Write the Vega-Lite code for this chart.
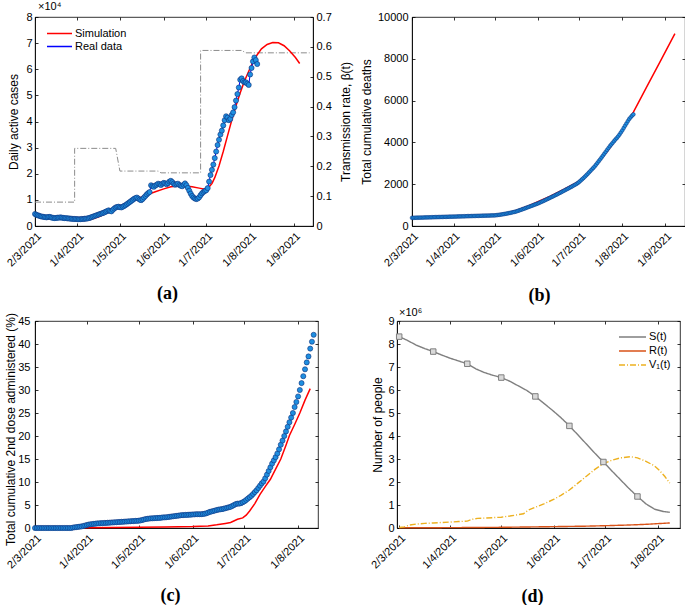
{
"$schema": "https://vega.github.io/schema/vega-lite/v6.json",
"padding": {"left": 3, "top": 0, "right": 0, "bottom": 0},
"autosize": {"type": "pad"},
"background": "white",
"config": {
  "font": "Liberation Sans",
  "view": {"stroke": "black", "strokeWidth": 0.8},
  "axis": {"labelFont": "Liberation Sans", "labelFontSize": 11, "labelColor": "black", "titleFont": "Liberation Sans", "titleFontSize": 12, "titleFontWeight": "normal", "titleColor": "black", "domainColor": "black", "domainWidth": 0.8, "tickColor": "black", "tickWidth": 0.8, "tickSize": -3, "grid": false, "labelPadding": 6, "labelFlush": false, "labelOverlap": false, "labelBound": false},
  "legend": {"labelFont": "Liberation Sans", "labelFontSize": 11, "labelColor": "black"},
  "title": {"font": "Liberation Sans", "fontSize": 11, "fontWeight": "normal", "color": "black"}
},
"datasets": {
  "beta": [{"i":0,"t":"2021-03-02","v":0.08},{"i":1,"t":"2021-03-30","v":0.08},{"i":2,"t":"2021-03-30","v":0.26},{"i":3,"t":"2021-04-28","v":0.26},{"i":4,"t":"2021-05-01","v":0.184},{"i":5,"t":"2021-05-28","v":0.184},{"i":6,"t":"2021-05-30","v":0.178},{"i":7,"t":"2021-06-27","v":0.178},{"i":8,"t":"2021-06-27","v":0.588},{"i":9,"t":"2021-07-26","v":0.588},{"i":10,"t":"2021-07-29","v":0.58},{"i":11,"t":"2021-09-12","v":0.58}],
  "simA": [{"t":"2021-03-02","v":4800},{"t":"2021-03-07","v":4000},{"t":"2021-03-12","v":3400},{"t":"2021-03-17","v":2900},{"t":"2021-03-22","v":2500},{"t":"2021-03-27","v":2200},{"t":"2021-04-01","v":2000},{"t":"2021-04-06","v":2100},{"t":"2021-04-11","v":2600},{"t":"2021-04-16","v":3500},{"t":"2021-04-21","v":4800},{"t":"2021-04-26","v":6300},{"t":"2021-05-01","v":7700},{"t":"2021-05-06","v":8900},{"t":"2021-05-11","v":10000},{"t":"2021-05-16","v":11000},{"t":"2021-05-21","v":12100},{"t":"2021-05-26","v":13100},{"t":"2021-06-01","v":14200},{"t":"2021-06-06","v":15000},{"t":"2021-06-11","v":15300},{"t":"2021-06-16","v":15300},{"t":"2021-06-21","v":15000},{"t":"2021-06-26","v":14500},{"t":"2021-06-29","v":14200},{"t":"2021-07-01","v":14300},{"t":"2021-07-03","v":15000},{"t":"2021-07-05","v":16200},{"t":"2021-07-07","v":18500},{"t":"2021-07-10","v":23000},{"t":"2021-07-13","v":28500},{"t":"2021-07-16","v":34500},{"t":"2021-07-19","v":40500},{"t":"2021-07-22","v":46000},{"t":"2021-07-25","v":51000},{"t":"2021-07-28","v":55500},{"t":"2021-08-01","v":60500},{"t":"2021-08-05","v":64800},{"t":"2021-08-09","v":67800},{"t":"2021-08-13","v":69500},{"t":"2021-08-17","v":70200},{"t":"2021-08-21","v":70100},{"t":"2021-08-25","v":69000},{"t":"2021-08-29","v":67000},{"t":"2021-09-02","v":64500},{"t":"2021-09-05","v":62200}],
  "simB": [{"t":"2021-03-02","v":380},{"t":"2021-04-01","v":430},{"t":"2021-05-01","v":520},{"t":"2021-05-09","v":600},{"t":"2021-05-16","v":730},{"t":"2021-05-24","v":930},{"t":"2021-06-01","v":1160},{"t":"2021-06-10","v":1430},{"t":"2021-06-20","v":1760},{"t":"2021-07-01","v":2150},{"t":"2021-07-12","v":2830},{"t":"2021-07-22","v":3650},{"t":"2021-07-30","v":4400},{"t":"2021-08-04","v":4900},{"t":"2021-08-09","v":5450},{"t":"2021-08-19","v":6700},{"t":"2021-08-29","v":7950},{"t":"2021-09-08","v":9200}],
  "simC": [{"t":"2021-03-02","v":0},{"t":"2021-03-22","v":0.02},{"t":"2021-04-01","v":0.05},{"t":"2021-04-16","v":0.1},{"t":"2021-05-01","v":0.15},{"t":"2021-05-16","v":0.2},{"t":"2021-06-01","v":0.3},{"t":"2021-06-10","v":0.45},{"t":"2021-06-15","v":0.7},{"t":"2021-06-20","v":1.0},{"t":"2021-06-23","v":1.2},{"t":"2021-06-27","v":1.9},{"t":"2021-06-30","v":2.2},{"t":"2021-07-02","v":2.8},{"t":"2021-07-04","v":3.7},{"t":"2021-07-07","v":5.3},{"t":"2021-07-10","v":7.3},{"t":"2021-07-13","v":9.0},{"t":"2021-07-16","v":10.6},{"t":"2021-07-19","v":12.8},{"t":"2021-07-22","v":15.0},{"t":"2021-07-25","v":18.0},{"t":"2021-07-27","v":20.1},{"t":"2021-07-30","v":22.5},{"t":"2021-08-02","v":25.0},{"t":"2021-08-05","v":27.8},{"t":"2021-08-08","v":30.3}],
  "popD": [
    {"s":"S(t)","t":"2021-03-02","v":8320000},{"s":"S(t)","t":"2021-03-07","v":8150000},{"s":"S(t)","t":"2021-03-12","v":7950000},{"s":"S(t)","t":"2021-03-17","v":7800000},{"s":"S(t)","t":"2021-03-22","v":7670000},{"s":"S(t)","t":"2021-03-27","v":7520000},{"s":"S(t)","t":"2021-04-01","v":7380000},{"s":"S(t)","t":"2021-04-06","v":7260000},{"s":"S(t)","t":"2021-04-11","v":7140000},{"s":"S(t)","t":"2021-04-16","v":6920000},{"s":"S(t)","t":"2021-04-21","v":6760000},{"s":"S(t)","t":"2021-04-26","v":6640000},{"s":"S(t)","t":"2021-05-01","v":6540000},{"s":"S(t)","t":"2021-05-06","v":6380000},{"s":"S(t)","t":"2021-05-11","v":6180000},{"s":"S(t)","t":"2021-05-16","v":5980000},{"s":"S(t)","t":"2021-05-21","v":5720000},{"s":"S(t)","t":"2021-05-26","v":5420000},{"s":"S(t)","t":"2021-05-31","v":5120000},{"s":"S(t)","t":"2021-06-05","v":4800000},{"s":"S(t)","t":"2021-06-10","v":4440000},{"s":"S(t)","t":"2021-06-15","v":4050000},{"s":"S(t)","t":"2021-06-20","v":3650000},{"s":"S(t)","t":"2021-06-25","v":3250000},{"s":"S(t)","t":"2021-06-30","v":2870000},{"s":"S(t)","t":"2021-07-05","v":2480000},{"s":"S(t)","t":"2021-07-10","v":2100000},{"s":"S(t)","t":"2021-07-15","v":1720000},{"s":"S(t)","t":"2021-07-20","v":1370000},{"s":"S(t)","t":"2021-07-25","v":1050000},{"s":"S(t)","t":"2021-07-30","v":820000},{"s":"S(t)","t":"2021-08-04","v":720000},{"s":"S(t)","t":"2021-08-08","v":680000},
    {"s":"R(t)","t":"2021-03-02","v":10000},{"s":"R(t)","t":"2021-04-01","v":15000},{"s":"R(t)","t":"2021-05-01","v":30000},{"s":"R(t)","t":"2021-06-01","v":60000},{"s":"R(t)","t":"2021-06-20","v":80000},{"s":"R(t)","t":"2021-07-01","v":100000},{"s":"R(t)","t":"2021-07-15","v":130000},{"s":"R(t)","t":"2021-07-25","v":160000},{"s":"R(t)","t":"2021-08-01","v":190000},{"s":"R(t)","t":"2021-08-08","v":220000},
    {"s":"V₁(t)","t":"2021-03-02","v":20000},{"s":"V₁(t)","t":"2021-03-05","v":50000},{"s":"V₁(t)","t":"2021-03-08","v":130000},{"s":"V₁(t)","t":"2021-03-12","v":170000},{"s":"V₁(t)","t":"2021-03-17","v":200000},{"s":"V₁(t)","t":"2021-03-22","v":220000},{"s":"V₁(t)","t":"2021-03-27","v":240000},{"s":"V₁(t)","t":"2021-04-01","v":260000},{"s":"V₁(t)","t":"2021-04-06","v":280000},{"s":"V₁(t)","t":"2021-04-11","v":300000},{"s":"V₁(t)","t":"2021-04-14","v":380000},{"s":"V₁(t)","t":"2021-04-17","v":420000},{"s":"V₁(t)","t":"2021-04-21","v":430000},{"s":"V₁(t)","t":"2021-04-26","v":450000},{"s":"V₁(t)","t":"2021-05-01","v":470000},{"s":"V₁(t)","t":"2021-05-06","v":520000},{"s":"V₁(t)","t":"2021-05-11","v":580000},{"s":"V₁(t)","t":"2021-05-14","v":620000},{"s":"V₁(t)","t":"2021-05-17","v":780000},{"s":"V₁(t)","t":"2021-05-21","v":900000},{"s":"V₁(t)","t":"2021-05-26","v":1050000},{"s":"V₁(t)","t":"2021-06-01","v":1250000},{"s":"V₁(t)","t":"2021-06-05","v":1420000},{"s":"V₁(t)","t":"2021-06-10","v":1650000},{"s":"V₁(t)","t":"2021-06-15","v":1950000},{"s":"V₁(t)","t":"2021-06-20","v":2250000},{"s":"V₁(t)","t":"2021-06-25","v":2550000},{"s":"V₁(t)","t":"2021-06-30","v":2800000},{"s":"V₁(t)","t":"2021-07-05","v":2950000},{"s":"V₁(t)","t":"2021-07-10","v":3050000},{"s":"V₁(t)","t":"2021-07-16","v":3100000},{"s":"V₁(t)","t":"2021-07-20","v":3050000},{"s":"V₁(t)","t":"2021-07-25","v":2900000},{"s":"V₁(t)","t":"2021-07-30","v":2700000},{"s":"V₁(t)","t":"2021-08-02","v":2500000},{"s":"V₁(t)","t":"2021-08-05","v":2250000},{"s":"V₁(t)","t":"2021-08-08","v":1950000}
  ],
  "sMark": [{"t":"2021-03-02","v":8320000},{"t":"2021-03-22","v":7670000},{"t":"2021-04-11","v":7140000},{"t":"2021-05-01","v":6540000},{"t":"2021-05-21","v":5720000},{"t":"2021-06-10","v":4440000},{"t":"2021-06-30","v":2870000},{"t":"2021-07-20","v":1370000}],
  "real": [
{"t":"2021-03-02","a":4600,"b":390,"c":0},{"t":"2021-03-03","a":4300,"b":392,"c":0},{"t":"2021-03-04","a":4100,"b":394,"c":0},{"t":"2021-03-05","a":3900,"b":396,"c":0},{"t":"2021-03-06","a":3700,"b":398,"c":0},{"t":"2021-03-07","a":3600,"b":400,"c":0},{"t":"2021-03-08","a":3500,"b":402,"c":0},{"t":"2021-03-09","a":3400,"b":404,"c":0},{"t":"2021-03-10","a":3300,"b":406,"c":0},{"t":"2021-03-11","a":3400,"b":408,"c":0},
{"t":"2021-03-12","a":3500,"b":410,"c":0},{"t":"2021-03-13","a":3400,"b":412,"c":0},{"t":"2021-03-14","a":3200,"b":414,"c":0},{"t":"2021-03-15","a":3100,"b":416,"c":0},{"t":"2021-03-16","a":3000,"b":418,"c":0},{"t":"2021-03-17","a":3100,"b":420,"c":0},{"t":"2021-03-18","a":3200,"b":422,"c":0},{"t":"2021-03-19","a":3200,"b":424,"c":0},{"t":"2021-03-20","a":3300,"b":426,"c":0},{"t":"2021-03-21","a":3200,"b":428,"c":0},
{"t":"2021-03-22","a":3100,"b":430,"c":0},{"t":"2021-03-23","a":3000,"b":432,"c":0},{"t":"2021-03-24","a":3000,"b":434,"c":0.1},{"t":"2021-03-25","a":2900,"b":436,"c":0.15},{"t":"2021-03-26","a":2900,"b":438,"c":0.2},{"t":"2021-03-27","a":2800,"b":440,"c":0.25},{"t":"2021-03-28","a":2800,"b":442,"c":0.3},{"t":"2021-03-29","a":2700,"b":444,"c":0.35},{"t":"2021-03-30","a":2700,"b":446,"c":0.45},{"t":"2021-03-31","a":2700,"b":448,"c":0.55},
{"t":"2021-04-01","a":2600,"b":450,"c":0.65},{"t":"2021-04-02","a":2600,"b":452,"c":0.75},{"t":"2021-04-03","a":2600,"b":454,"c":0.8},{"t":"2021-04-04","a":2700,"b":456,"c":0.85},{"t":"2021-04-05","a":2700,"b":458,"c":0.9},{"t":"2021-04-06","a":2800,"b":460,"c":0.95},{"t":"2021-04-07","a":2800,"b":462,"c":1.0},{"t":"2021-04-08","a":2900,"b":464,"c":1.0},{"t":"2021-04-09","a":3000,"b":466,"c":1.05},{"t":"2021-04-10","a":3200,"b":468,"c":1.05},
{"t":"2021-04-11","a":3400,"b":470,"c":1.1},{"t":"2021-04-12","a":3600,"b":472,"c":1.1},{"t":"2021-04-13","a":3800,"b":474,"c":1.15},{"t":"2021-04-14","a":4000,"b":476,"c":1.15},{"t":"2021-04-15","a":4200,"b":478,"c":1.2},{"t":"2021-04-16","a":4400,"b":480,"c":1.2},{"t":"2021-04-17","a":4600,"b":482,"c":1.25},{"t":"2021-04-18","a":4800,"b":484,"c":1.25},{"t":"2021-04-19","a":5000,"b":486,"c":1.3},{"t":"2021-04-20","a":5200,"b":488,"c":1.3},
{"t":"2021-04-21","a":5500,"b":490,"c":1.35},{"t":"2021-04-22","a":5700,"b":492,"c":1.35},{"t":"2021-04-23","a":6000,"b":494,"c":1.4},{"t":"2021-04-24","a":5800,"b":496,"c":1.4},{"t":"2021-04-25","a":5600,"b":498,"c":1.45},{"t":"2021-04-26","a":6200,"b":500,"c":1.45},{"t":"2021-04-27","a":6700,"b":502,"c":1.5},{"t":"2021-04-28","a":7100,"b":504,"c":1.5},{"t":"2021-04-29","a":7300,"b":506,"c":1.55},{"t":"2021-04-30","a":7400,"b":508,"c":1.55},
{"t":"2021-05-01","a":7200,"b":510,"c":1.6},{"t":"2021-05-02","a":7100,"b":518,"c":1.65},{"t":"2021-05-03","a":7400,"b":526,"c":1.75},{"t":"2021-05-04","a":7700,"b":535,"c":1.85},{"t":"2021-05-05","a":8000,"b":545,"c":1.95},{"t":"2021-05-06","a":8400,"b":555,"c":2.0},{"t":"2021-05-07","a":8800,"b":566,"c":2.05},{"t":"2021-05-08","a":9200,"b":577,"c":2.1},{"t":"2021-05-09","a":9600,"b":590,"c":2.1},{"t":"2021-05-10","a":10000,"b":603,"c":2.15},
{"t":"2021-05-11","a":10400,"b":616,"c":2.15},{"t":"2021-05-12","a":10700,"b":630,"c":2.2},{"t":"2021-05-13","a":10900,"b":645,"c":2.2},{"t":"2021-05-14","a":10500,"b":660,"c":2.25},{"t":"2021-05-15","a":10100,"b":675,"c":2.3},{"t":"2021-05-16","a":9900,"b":690,"c":2.3},{"t":"2021-05-17","a":10300,"b":712,"c":2.35},{"t":"2021-05-18","a":10900,"b":735,"c":2.4},{"t":"2021-05-19","a":11500,"b":758,"c":2.45},{"t":"2021-05-20","a":12100,"b":782,"c":2.5},
{"t":"2021-05-21","a":12600,"b":806,"c":2.55},{"t":"2021-05-22","a":13000,"b":830,"c":2.6},{"t":"2021-05-23","a":15600,"b":855,"c":2.65},{"t":"2021-05-24","a":15200,"b":880,"c":2.7},{"t":"2021-05-25","a":15000,"b":905,"c":2.75},{"t":"2021-05-26","a":15500,"b":930,"c":2.8},{"t":"2021-05-27","a":15800,"b":955,"c":2.8},{"t":"2021-05-28","a":16200,"b":980,"c":2.85},{"t":"2021-05-29","a":16000,"b":1005,"c":2.85},{"t":"2021-05-30","a":15700,"b":1030,"c":2.9},
{"t":"2021-05-31","a":16200,"b":1055,"c":2.9},{"t":"2021-06-01","a":16500,"b":1080,"c":2.95},{"t":"2021-06-02","a":16300,"b":1110,"c":2.95},{"t":"2021-06-03","a":16000,"b":1140,"c":3.0},{"t":"2021-06-04","a":16400,"b":1170,"c":3.0},{"t":"2021-06-05","a":17000,"b":1200,"c":3.0},{"t":"2021-06-06","a":17300,"b":1230,"c":3.0},{"t":"2021-06-07","a":16800,"b":1262,"c":3.05},{"t":"2021-06-08","a":16200,"b":1294,"c":3.1},{"t":"2021-06-09","a":15800,"b":1326,"c":3.2},
{"t":"2021-06-10","a":16000,"b":1358,"c":3.35},{"t":"2021-06-11","a":16200,"b":1390,"c":3.5},{"t":"2021-06-12","a":15700,"b":1422,"c":3.6},{"t":"2021-06-13","a":15400,"b":1455,"c":3.7},{"t":"2021-06-14","a":15200,"b":1488,"c":3.8},{"t":"2021-06-15","a":15800,"b":1521,"c":3.9},{"t":"2021-06-16","a":16300,"b":1555,"c":4.0},{"t":"2021-06-17","a":15600,"b":1590,"c":4.05},{"t":"2021-06-18","a":14600,"b":1625,"c":4.1},{"t":"2021-06-19","a":13500,"b":1660,"c":4.2},
{"t":"2021-06-20","a":12400,"b":1695,"c":4.3},{"t":"2021-06-21","a":11500,"b":1730,"c":4.4},{"t":"2021-06-22","a":10900,"b":1765,"c":4.5},{"t":"2021-06-23","a":10500,"b":1800,"c":4.6},{"t":"2021-06-24","a":10300,"b":1836,"c":4.8},{"t":"2021-06-25","a":10500,"b":1872,"c":5.0},{"t":"2021-06-26","a":11000,"b":1908,"c":5.2},{"t":"2021-06-27","a":11800,"b":1945,"c":5.3},{"t":"2021-06-28","a":12500,"b":1982,"c":5.3},{"t":"2021-06-29","a":13000,"b":2020,"c":5.4},
{"t":"2021-06-30","a":13400,"b":2065,"c":5.6},{"t":"2021-07-01","a":13700,"b":2120,"c":5.8},{"t":"2021-07-02","a":14500,"b":2180,"c":6.1},{"t":"2021-07-03","a":17000,"b":2240,"c":6.4},{"t":"2021-07-04","a":19500,"b":2300,"c":6.7},{"t":"2021-07-05","a":21500,"b":2365,"c":7.0},{"t":"2021-07-06","a":23500,"b":2430,"c":7.4},{"t":"2021-07-07","a":26000,"b":2500,"c":7.8},{"t":"2021-07-08","a":28500,"b":2570,"c":8.2},{"t":"2021-07-09","a":31000,"b":2640,"c":8.7},
{"t":"2021-07-10","a":33000,"b":2710,"c":9.2},{"t":"2021-07-11","a":35000,"b":2780,"c":9.7},{"t":"2021-07-12","a":36500,"b":2850,"c":10.1},{"t":"2021-07-13","a":38500,"b":2935,"c":10.8},{"t":"2021-07-14","a":40500,"b":3020,"c":11.6},{"t":"2021-07-15","a":42000,"b":3105,"c":12.4},{"t":"2021-07-16","a":41500,"b":3190,"c":13.2},{"t":"2021-07-17","a":40500,"b":3280,"c":14.0},{"t":"2021-07-18","a":41000,"b":3370,"c":14.7},{"t":"2021-07-19","a":42500,"b":3460,"c":15.4},
{"t":"2021-07-20","a":43500,"b":3550,"c":16.2},{"t":"2021-07-21","a":45500,"b":3640,"c":17.1},{"t":"2021-07-22","a":48000,"b":3730,"c":18.1},{"t":"2021-07-23","a":50500,"b":3820,"c":19.0},{"t":"2021-07-24","a":53000,"b":3900,"c":20.0},{"t":"2021-07-25","a":56000,"b":3980,"c":21.0},{"t":"2021-07-26","a":56500,"b":4060,"c":22.0},{"t":"2021-07-27","a":55500,"b":4140,"c":23.0},{"t":"2021-07-28","a":55000,"b":4210,"c":24.0},{"t":"2021-07-29","a":55000,"b":4290,"c":25.0},
{"t":"2021-07-30","a":54500,"b":4380,"c":26.3},{"t":"2021-07-31","a":54000,"b":4480,"c":27.4},{"t":"2021-08-01","a":58000,"b":4580,"c":28.6},{"t":"2021-08-02","a":60500,"b":4690,"c":30.0},{"t":"2021-08-03","a":63000,"b":4800,"c":31.5},{"t":"2021-08-04","a":64500,"b":4910,"c":33.0},{"t":"2021-08-05","a":63500,"b":5020,"c":34.5},{"t":"2021-08-06","a":62000,"b":5120,"c":36.0},{"t":"2021-08-07","b":5200,"c":37.3},{"t":"2021-08-08","b":5280,"c":39.0},
{"t":"2021-08-09","b":5340,"c":40.5},{"t":"2021-08-10","c":42.0}
  ]
},
"spacing": 1,
"resolve": {"scale": {"color": "independent", "strokeDash": "independent"}},
"vconcat": [
 {"bounds": "flush", "spacing": 99,
  "resolve": {"scale": {"color": "independent", "strokeDash": "independent"}},
  "hconcat": [
  {"width": 278, "height": 209,
   "title": {"text": "×10⁴", "anchor": "start", "frame": "group", "dx": 3, "offset": -1, "fontSize": 11},
   "layer": [
    {"data": {"name": "beta"},
     "mark": {"type": "line", "color": "#8c8c8c", "strokeWidth": 1, "strokeDash": [6, 2, 1, 2]},
     "encoding": {
      "x": {"field": "t", "type": "temporal", "scale": {"type": "utc", "domain": [{"year":2021,"month":3,"date":2,"utc":true},{"year":2021,"month":9,"date":14,"hours":10,"utc":true}]},
            "axis": {"orient": "bottom", "values": [{"year":2021,"month":3,"date":2,"utc":true},{"year":2021,"month":4,"date":1,"utc":true},{"year":2021,"month":5,"date":1,"utc":true},{"year":2021,"month":6,"date":1,"utc":true},{"year":2021,"month":7,"date":1,"utc":true},{"year":2021,"month":8,"date":1,"utc":true},{"year":2021,"month":9,"date":1,"utc":true}],
                     "labelExpr": "utcFormat(datum.value, '%-d/%-m/%Y')", "labelAngle": -45, "labelAlign": "right", "labelBaseline": "top", "labelPadding": 7,
                     "title": "(a)", "titleFont": "Liberation Serif", "titleFontWeight": "bold", "titleFontSize": 18, "titleX": 132, "titleY": 58, "titleBaseline": "top", "titleAlign": "center"}},
      "y": {"field": "v", "type": "quantitative", "scale": {"domain": [0, 0.7], "nice": false},
            "axis": {"orient": "right", "values": [0,0.1,0.2,0.3,0.4,0.5,0.6,0.7], "format": ".1~f", "title": "Transmission rate, β(t)", "titleAngle": 270, "titleBaseline": "top", "titleX": 27}},
      "order": {"field": "i", "type": "quantitative"}
     }},
    {"data": {"name": "simA"},
     "mark": {"type": "line", "strokeWidth": 1.5},
     "encoding": {
      "x": {"field": "t", "type": "temporal", "scale": {"type": "utc"},
            "axis": {"orient": "top", "values": [{"year":2021,"month":3,"date":2,"utc":true},{"year":2021,"month":4,"date":1,"utc":true},{"year":2021,"month":5,"date":1,"utc":true},{"year":2021,"month":6,"date":1,"utc":true},{"year":2021,"month":7,"date":1,"utc":true},{"year":2021,"month":8,"date":1,"utc":true},{"year":2021,"month":9,"date":1,"utc":true}], "labels": false, "title": null, "domain": false}},
      "y": {"field": "v", "type": "quantitative", "scale": {"domain": [0, 80000], "nice": false},
            "axis": {"orient": "left", "values": [0,10000,20000,30000,40000,50000,60000,70000,80000], "labelExpr": "datum.value / 10000", "title": "Daily active cases", "titleX": -15}},
      "color": {"datum": "Simulation", "type": "nominal", "scale": {"domain": ["Simulation", "Real data"], "range": ["#ff0000", "#0000ff"]},
                "legend": {"orient": "none", "legendX": 11, "legendY": 10, "title": null, "symbolType": "stroke", "symbolSize": 625, "symbolStrokeWidth": 1.3, "labelFontSize": 11, "labelOffset": 2, "rowPadding": 0, "clipHeight": 13}}
     }},
    {"data": {"name": "real"},
     "transform": [{"filter": "isValid(datum.a)"}],
     "mark": {"type": "line", "strokeWidth": 1},
     "encoding": {
      "x": {"field": "t", "type": "temporal", "scale": {"type": "utc"}, "axis": null},
      "y": {"field": "a", "type": "quantitative", "scale": {"domain": [0, 80000], "nice": false}, "axis": null},
      "color": {"datum": "Real data", "type": "nominal"}
     }},
    {"data": {"name": "real"},
     "transform": [{"filter": "isValid(datum.a)"}],
     "mark": {"type": "point", "filled": true, "fill": "#1f8fe0", "stroke": "#0b2e7a", "strokeWidth": 0.6, "size": 26, "opacity": 1},
     "encoding": {
      "x": {"field": "t", "type": "temporal", "scale": {"type": "utc"}, "axis": null},
      "y": {"field": "a", "type": "quantitative", "scale": {"domain": [0, 80000], "nice": false}, "axis": null}
     }}
   ],
   "resolve": {"scale": {"y": "independent"}, "axis": {"x": "independent", "y": "independent"}}
  },
  {"width": 273, "height": 209,
   "layer": [
    {"data": {"name": "simB"},
     "mark": {"type": "line", "color": "#ff0000", "strokeWidth": 1.5},
     "encoding": {
      "x": {"field": "t", "type": "temporal", "scale": {"type": "utc", "domain": [{"year":2021,"month":3,"date":2,"utc":true},{"year":2021,"month":9,"date":15,"hours":7,"utc":true}]},
            "axis": {"orient": "bottom", "values": [{"year":2021,"month":3,"date":2,"utc":true},{"year":2021,"month":4,"date":1,"utc":true},{"year":2021,"month":5,"date":1,"utc":true},{"year":2021,"month":6,"date":1,"utc":true},{"year":2021,"month":7,"date":1,"utc":true},{"year":2021,"month":8,"date":1,"utc":true},{"year":2021,"month":9,"date":1,"utc":true}],
                     "labelExpr": "utcFormat(datum.value, '%-d/%-m/%Y')", "labelAngle": -45, "labelAlign": "right", "labelBaseline": "top", "labelPadding": 7,
                     "title": "(b)", "titleFont": "Liberation Serif", "titleFontWeight": "bold", "titleFontSize": 18, "titleX": 127, "titleY": 60, "titleBaseline": "top", "titleAlign": "center"}},
      "y": {"field": "v", "type": "quantitative", "scale": {"domain": [0, 10000], "nice": false},
            "axis": {"orient": "left", "values": [0,2000,4000,6000,8000,10000], "format": "d", "title": "Total cumulative deaths", "titleX": -39, "labelPadding": 7}}
     }},
    {"data": {"name": "real"},
     "transform": [{"filter": "isValid(datum.b)"}],
     "mark": {"type": "point", "filled": true, "fill": "#1f8fe0", "stroke": "#0b2e7a", "strokeWidth": 0.5, "size": 14, "opacity": 1},
     "encoding": {
      "x": {"field": "t", "type": "temporal", "scale": {"type": "utc"},
            "axis": {"orient": "top", "values": [{"year":2021,"month":3,"date":2,"utc":true},{"year":2021,"month":4,"date":1,"utc":true},{"year":2021,"month":5,"date":1,"utc":true},{"year":2021,"month":6,"date":1,"utc":true},{"year":2021,"month":7,"date":1,"utc":true},{"year":2021,"month":8,"date":1,"utc":true},{"year":2021,"month":9,"date":1,"utc":true}], "labels": false, "title": null, "domain": false}},
      "y": {"field": "b", "type": "quantitative",
            "axis": {"orient": "right", "values": [0,2000,4000,6000,8000,10000], "labels": false, "title": null, "domain": false}}
     }}
   ],
   "resolve": {"axis": {"x": "independent", "y": "independent"}}
  }
 ]},
 {"bounds": "flush", "spacing": 79,
  "resolve": {"scale": {"color": "independent", "strokeDash": "independent"}},
  "hconcat": [
  {"width": 283, "height": 207,
   "layer": [
    {"data": {"name": "simC"},
     "mark": {"type": "line", "color": "#ff0000", "strokeWidth": 1.5},
     "encoding": {
      "x": {"field": "t", "type": "temporal", "scale": {"type": "utc", "domain": [{"year":2021,"month":3,"date":2,"utc":true},{"year":2021,"month":8,"date":12,"hours":12,"utc":true}]},
            "axis": {"orient": "bottom", "values": [{"year":2021,"month":3,"date":2,"utc":true},{"year":2021,"month":4,"date":1,"utc":true},{"year":2021,"month":5,"date":1,"utc":true},{"year":2021,"month":6,"date":1,"utc":true},{"year":2021,"month":7,"date":1,"utc":true},{"year":2021,"month":8,"date":1,"utc":true}],
                     "labelExpr": "utcFormat(datum.value, '%-d/%-m/%Y')", "labelAngle": -45, "labelAlign": "right", "labelBaseline": "top", "labelPadding": 7,
                     "title": "(c)", "titleFont": "Liberation Serif", "titleFontWeight": "bold", "titleFontSize": 18, "titleX": 135, "titleY": 58, "titleBaseline": "top", "titleAlign": "center"}},
      "y": {"field": "v", "type": "quantitative", "scale": {"domain": [0, 45], "nice": false},
            "axis": {"orient": "left", "values": [0,5,10,15,20,25,30,35,40,45], "format": "d", "title": "Total cumulative 2nd dose administered (%)", "titleX": -18, "titleY": 108, "labelPadding": 8}}
     }},
    {"data": {"name": "real"},
     "transform": [{"filter": "isValid(datum.c)"}],
     "mark": {"type": "point", "filled": true, "fill": "#1f8fe0", "stroke": "#0b2e7a", "strokeWidth": 0.6, "size": 26, "opacity": 1},
     "encoding": {
      "x": {"field": "t", "type": "temporal", "scale": {"type": "utc"},
            "axis": {"orient": "top", "values": [{"year":2021,"month":3,"date":2,"utc":true},{"year":2021,"month":4,"date":1,"utc":true},{"year":2021,"month":5,"date":1,"utc":true},{"year":2021,"month":6,"date":1,"utc":true},{"year":2021,"month":7,"date":1,"utc":true},{"year":2021,"month":8,"date":1,"utc":true}], "labels": false, "title": null, "domain": false}},
      "y": {"field": "c", "type": "quantitative",
            "axis": {"orient": "right", "values": [0,5,10,15,20,25,30,35,40,45], "labels": false, "title": null, "domain": false}}
     }}
   ],
   "resolve": {"axis": {"x": "independent", "y": "independent"}}
  },
  {"width": 283, "height": 207,
   "title": {"text": "×10⁶", "anchor": "start", "frame": "group", "dx": 2, "offset": -3, "fontSize": 11},
   "layer": [
    {"data": {"name": "popD"},
     "mark": {"type": "line", "strokeWidth": 1.4},
     "encoding": {
      "x": {"field": "t", "type": "temporal", "scale": {"type": "utc", "domain": [{"year":2021,"month":2,"date":28,"hours":17,"utc":true},{"year":2021,"month":8,"date":14,"utc":true}]},
            "axis": {"orient": "bottom", "values": [{"year":2021,"month":3,"date":2,"utc":true},{"year":2021,"month":4,"date":1,"utc":true},{"year":2021,"month":5,"date":1,"utc":true},{"year":2021,"month":6,"date":1,"utc":true},{"year":2021,"month":7,"date":1,"utc":true},{"year":2021,"month":8,"date":1,"utc":true}],
                     "labelExpr": "utcFormat(datum.value, '%-d/%-m/%Y')", "labelAngle": -45, "labelAlign": "right", "labelBaseline": "top", "labelPadding": 7,
                     "title": "(d)", "titleFont": "Liberation Serif", "titleFontWeight": "bold", "titleFontSize": 18, "titleX": 135, "titleY": 59, "titleBaseline": "top", "titleAlign": "center"}},
      "y": {"field": "v", "type": "quantitative", "scale": {"domain": [0, 9000000], "nice": false},
            "axis": {"orient": "left", "values": [0,1000000,2000000,3000000,4000000,5000000,6000000,7000000,8000000,9000000], "labelExpr": "datum.value / 1000000", "title": "Number of people", "titleX": -13}},
      "color": {"field": "s", "type": "nominal", "scale": {"domain": ["S(t)", "R(t)", "V₁(t)"], "range": ["#7f7f7f", "#d95319", "#edb120"]},
                "legend": {"orient": "none", "legendX": 221, "legendY": 9, "title": null, "symbolType": "stroke", "symbolSize": 729, "symbolStrokeWidth": 1.4, "labelFontSize": 11, "labelOffset": 2, "rowPadding": 0, "clipHeight": 14}},
      "strokeDash": {"field": "s", "type": "nominal", "scale": {"domain": ["S(t)", "R(t)", "V₁(t)"], "range": [[1, 0], [1, 0], [6, 2, 1, 2]]},
                "legend": {"orient": "none", "legendX": 221, "legendY": 9, "title": null, "symbolType": "stroke", "symbolSize": 729, "symbolStrokeWidth": 1.4, "labelFontSize": 11, "labelOffset": 2, "rowPadding": 0, "clipHeight": 14}}
     }},
    {"data": {"name": "sMark"},
     "mark": {"type": "point", "shape": "square", "filled": true, "fill": "#d9d9d9", "stroke": "#7f7f7f", "strokeWidth": 1, "size": 30, "opacity": 1},
     "encoding": {
      "x": {"field": "t", "type": "temporal", "scale": {"type": "utc"},
            "axis": {"orient": "top", "values": [{"year":2021,"month":3,"date":2,"utc":true},{"year":2021,"month":4,"date":1,"utc":true},{"year":2021,"month":5,"date":1,"utc":true},{"year":2021,"month":6,"date":1,"utc":true},{"year":2021,"month":7,"date":1,"utc":true},{"year":2021,"month":8,"date":1,"utc":true}], "labels": false, "title": null, "domain": false}},
      "y": {"field": "v", "type": "quantitative",
            "axis": {"orient": "right", "values": [0,1000000,2000000,3000000,4000000,5000000,6000000,7000000,8000000,9000000], "labels": false, "title": null, "domain": false}}
     }}
   ],
   "resolve": {"axis": {"x": "independent", "y": "independent"}}
  }
 ]}
]
}
